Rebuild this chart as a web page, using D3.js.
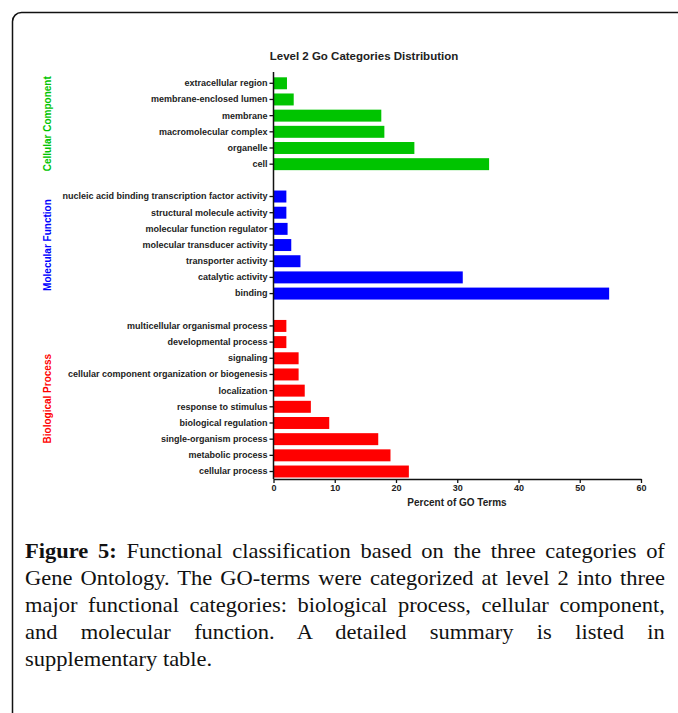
<!DOCTYPE html>
<html>
<head>
<meta charset="utf-8">
<script src="https://cdn.jsdelivr.net/npm/d3@7"></script>
<style>
  html, body { margin: 0; padding: 0; background: #fff; }
  body { width: 678px; height: 713px; overflow: hidden; position: relative; }
  #chart { position: absolute; left: 0; top: 0; }
  #caption { position: absolute; left: 25px; top: 538px; width: 598px;
    transform: scaleX(1.07); transform-origin: 0 0;
    font-family: "Liberation Serif", "DejaVu Serif", serif; font-size: 21px; line-height: 27px; color: #111; }
  #caption .ln { text-align: justify; text-align-last: justify; white-space: nowrap; }
  #caption .ln.last { text-align-last: left; }
  #caption b { font-weight: bold; }
</style>
</head>
<body>
<svg id="chart" width="678" height="713"></svg>
<div id="caption"></div>
<script>
// ---- data ----
const ccLabels = ["extracellular region", "membrane-enclosed lumen", "membrane", "macromolecular complex", "organelle", "cell"];
const ccValues = [2.2, 3.3, 17.6, 18.1, 23.0, 35.2];
const mfLabels = ["nucleic acid binding transcription factor activity", "structural molecule activity", "molecular function regulator", "molecular transducer activity", "transporter activity", "catalytic activity", "binding"];
const mfValues = [2.1, 2.1, 2.3, 2.9, 4.4, 30.9, 54.8];
const bpLabels = ["multicellular organismal process", "developmental process", "signaling", "cellular component organization or biogenesis", "localization", "response to stimulus", "biological regulation", "single-organism process", "metabolic process", "cellular process"];
const bpValues = [2.1, 2.1, 4.1, 4.1, 5.1, 6.1, 9.1, 17.1, 19.1, 22.1];
const groupNames = ["Cellular Component", "Molecular Function", "Biological Process"];
const groupColors = ["#00c400", "#0000ff", "#ff0000"];
const xTicks = [0, 10, 20, 30, 40, 50, 60];
const chartTitle = "Level 2 Go Categories Distribution";
const xTitle = "Percent of GO Terms";
const captionLines = [
  "<b>Figure 5:</b> Functional classification based on the three categories of",
  "Gene Ontology. The GO-terms were categorized at level 2 into three",
  "major functional categories: biological process, cellular component,",
  "and molecular function. A detailed summary is listed in",
  "supplementary table."
];

// ---- build rows ----
const groups = [
  {labels: ccLabels, values: ccValues},
  {labels: mfLabels, values: mfValues},
  {labels: bpLabels, values: bpValues}
];
const rows = [];
const domain = [];
groups.forEach((g, gi) => {
  if (gi > 0) domain.push("__gap" + gi);
  g.labels.forEach((l, i) => {
    rows.push({label: l, value: g.values[i], group: gi});
    domain.push(l);
  });
});

const FONT = "Liberation Sans, Arial, sans-serif";
const svg = d3.select("#chart");

// frame
svg.append("rect").attr("x", 12.5).attr("y", 12.5).attr("width", 700).attr("height", 740)
  .attr("rx", 9).attr("fill", "none").attr("stroke", "#111").attr("stroke-width", 1.5);

const x = d3.scaleLinear().domain([0, 60]).range([273.5, 641]);
const y = d3.scaleBand().domain(domain).range([75.2, 479.6]).paddingInner(0.26).paddingOuter(0.13);

// bars
svg.append("g").selectAll("rect").data(rows).enter().append("rect")
  .attr("x", x(0))
  .attr("y", d => y(d.label))
  .attr("width", d => x(d.value) - x(0))
  .attr("height", y.bandwidth())
  .attr("fill", d => groupColors[d.group]);

// y axis
const yAxis = d3.axisLeft(y).tickSize(4).tickSizeOuter(0).tickPadding(2)
  .tickFormat(d => d.startsWith("__gap") ? "" : d);
const gy = svg.append("g").attr("transform", `translate(${x(0)},0)`).call(yAxis);
gy.selectAll(".tick").filter(d => d.startsWith("__gap")).remove();
gy.select(".domain").attr("d", `M0,72V479`).attr("stroke", "#111").attr("stroke-width", 1.5);
gy.selectAll(".tick line").attr("stroke", "#111").attr("stroke-width", 1.3);
gy.selectAll(".tick text").attr("fill", "#222")
  .style("font-family", FONT).style("font-weight", "bold").style("font-size", "9px");

// x axis
const xAxis = d3.axisBottom(x).tickValues(xTicks).tickSize(4).tickSizeOuter(0).tickPadding(2);
const gx = svg.append("g").attr("transform", `translate(0,479)`).call(xAxis);
gx.select(".domain").attr("stroke", "#111").attr("stroke-width", 1.5);
gx.selectAll(".tick line").attr("stroke", "#111").attr("stroke-width", 1.3);
gx.selectAll(".tick text").attr("fill", "#222")
  .style("font-family", FONT).style("font-weight", "bold").style("font-size", "9px");

// titles
svg.append("text").attr("x", 364).attr("y", 59.5).attr("text-anchor", "middle")
  .style("font-family", FONT).style("font-weight", "bold").style("font-size", "11.5px")
  .attr("fill", "#222").text(chartTitle);
svg.append("text").attr("x", 457).attr("y", 506).attr("text-anchor", "middle")
  .style("font-family", FONT).style("font-weight", "bold").style("font-size", "10px")
  .attr("fill", "#222").text(xTitle);

// group labels
groups.forEach((g, gi) => {
  const y0 = y(g.labels[0]);
  const y1 = y(g.labels[g.labels.length - 1]) + y.bandwidth();
  const cy = (y0 + y1) / 2;
  svg.append("text").attr("transform", `translate(51,${cy}) rotate(-90)`).attr("text-anchor", "middle")
    .style("font-family", FONT).style("font-weight", "bold").style("font-size", "10px")
    .attr("fill", groupColors[gi]).text(groupNames[gi]);
});

// caption
const cap = d3.select("#caption");
captionLines.forEach((l, i) => {
  cap.append("div").attr("class", "ln" + (i === captionLines.length - 1 ? " last" : "")).html(l);
});
</script>
</body>
</html>
